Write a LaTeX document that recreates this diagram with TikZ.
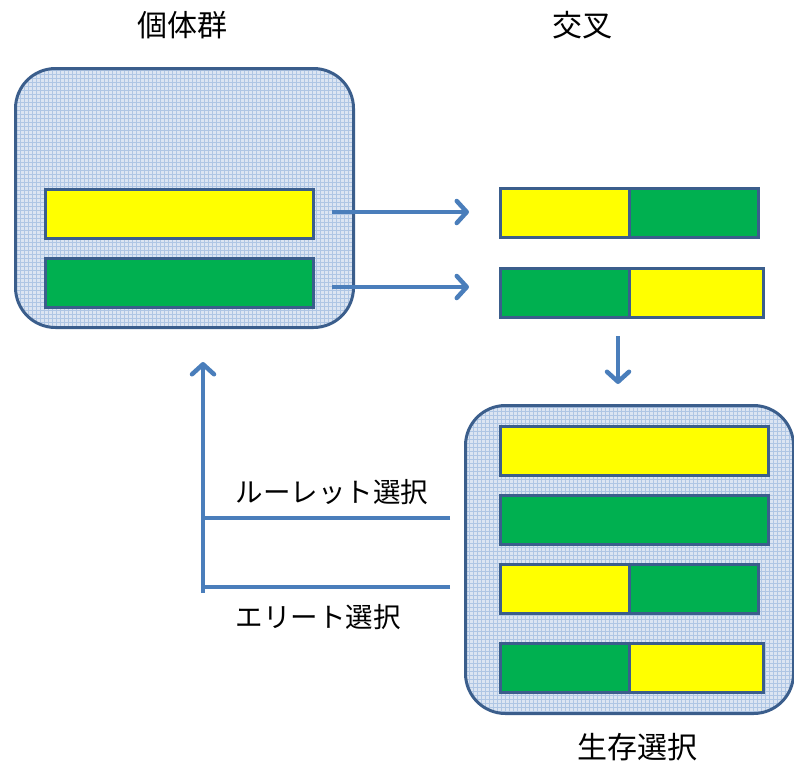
\documentclass[tikz,border=0pt]{standalone}
\usepackage{fontspec}
\setmainfont{Noto Sans CJK JP}
\usetikzlibrary{arrows.meta}
\definecolor{edgeblue}{HTML}{3B5E8C}
\definecolor{arrowblue}{HTML}{4A7EBB}
\definecolor{gyellow}{HTML}{FFFF00}
\definecolor{ggreen}{HTML}{00B050}
\definecolor{poolfill}{HTML}{DCE5F2}
\definecolor{poolgrid}{HTML}{AFC6E4}
\begin{document}
\begin{tikzpicture}[x=1pt,y=-1pt,
  bar/.style={draw=edgeblue, line width=3pt, rectangle, inner sep=0pt, minimum height=49pt, anchor=north west},
  pool/.style={draw=edgeblue, line width=3pt, rectangle, rounded corners=40pt, inner sep=0pt, anchor=north west, fill=poolfill,
    path picture={\draw[poolgrid, line width=0.4pt] ([xshift=-2pt,yshift=-2pt]path picture bounding box.south west) grid[step=4pt] ([xshift=2pt,yshift=2pt]path picture bounding box.north east);}},
  flow/.style={draw=arrowblue, line width=4.5pt, -{Straight Barb[length=10pt,width=22pt,line cap=round,line join=round]}},
  plain/.style={draw=arrowblue, line width=4.5pt},
  lab/.style={font=\fontsize{27.5}{32}\selectfont, inner sep=0pt},
  ttl/.style={font=\fontsize{30}{36}\selectfont, inner sep=0pt}
]
\useasboundingbox (0,0) rectangle (794,763);
% population
\node[pool, minimum width=338pt, minimum height=259pt] (pop) at (14,67) {};
\node[bar, fill=gyellow, minimum width=268pt] (p1) at (44,188) {};
\node[bar, fill=ggreen, minimum width=268pt] (p2) at (44,257) {};
% crossover
\node[bar, fill=gyellow, minimum width=129pt] (c1a) at (499,187) {};
\node[bar, fill=ggreen, minimum width=129pt] (c1b) at (628,187) {};
\node[bar, fill=ggreen, minimum width=129pt] (c2a) at (499,267) {};
\node[bar, fill=gyellow, minimum width=134pt] (c2b) at (628,267) {};
% survival pool
\node[pool, minimum width=328pt, minimum height=308pt] (surv) at (464,404) {};
\node[bar, fill=gyellow, minimum width=268pt] (s1) at (499,425) {};
\node[bar, fill=ggreen, minimum width=268pt] (s2) at (499,494) {};
\node[bar, fill=gyellow, minimum width=129pt] (s3a) at (499,563) {};
\node[bar, fill=ggreen, minimum width=129pt] (s3b) at (628,563) {};
\node[bar, fill=ggreen, minimum width=129pt] (s4a) at (499,642) {};
\node[bar, fill=gyellow, minimum width=134pt] (s4b) at (628,642) {};
% labels
\node[ttl] (tpop) at (182,25) {個体群};
\node[ttl] (tcross) at (582,25) {交叉};
\node[lab] (troul) at (332,492) {ルーレット選択};
\node[lab] (telite) at (318,617) {エリート選択};
\node[ttl] (tsurv) at (637,747) {生存選択};
% arrows
\coordinate (a1s) at (332,212);
\coordinate (a1e) at (469,212);
\coordinate (a2s) at (332,287);
\coordinate (a2e) at (469,287);
\draw[flow] (a1s) -- (a1e);
\draw[flow] (a2s) -- (a2e);
\coordinate (dn1) at (618,336);
\coordinate (dn2) at (618,384);
\draw[flow] (dn1) -- (dn2);
\coordinate (r1) at (450,518);
\coordinate (r2) at (203,518);
\coordinate (e1) at (450,587);
\coordinate (e2) at (203,587);
\coordinate (v1) at (203,593);
\coordinate (v2) at (203,362);
\draw[plain] (r1) -- (r2);
\draw[plain] (e1) -- (e2);
\draw[flow] (v1) -- (v2);
\end{tikzpicture}
\end{document}
